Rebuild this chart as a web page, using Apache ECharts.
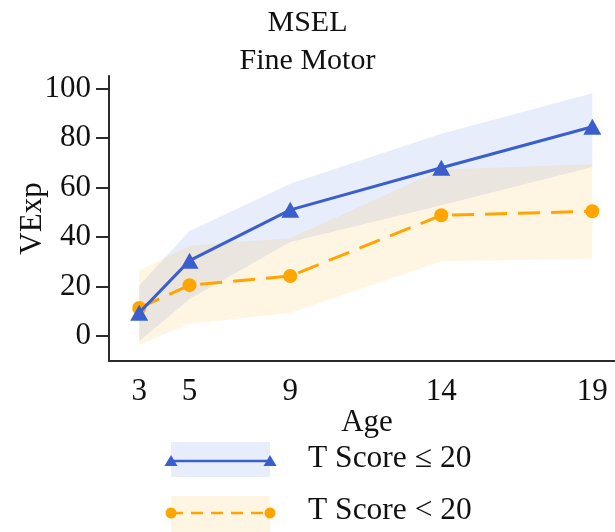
<!DOCTYPE html>
<html>
<head>
<meta charset="utf-8">
<script src="https://cdn.jsdelivr.net/npm/echarts@6/dist/echarts.min.js"></script>
<style>
  html, body { margin: 0; padding: 0; background: #fff; }
  #chart { width: 615px; height: 532px; }
</style>
</head>
<body>
<div id="chart"></div>
<script>
// Visit positions along the x scale and the age printed under each one
const agePositions = [0, 2, 6, 12, 18];
const ageLabels = ['3', '5', '9', '14', '19'];
const yTicks = [0, 20, 40, 60, 80, 100];

// Group "T Score ≤ 20": mean VExp and its band
const lowMean = [9.5, 30.5, 51, 68, 84.5];
const lowUpper = [20.5, 42.5, 61.5, 81.7, 98];
const lowLower = [-2, 15, 38, 52.8, 68.3];

// Group "T Score < 20": mean VExp and its band
const highMean = [11.4, 20.6, 24.3, 48.8, 50.4];
const highUpper = [26.5, 36.5, 39.5, 67.3, 69.4];
const highLower = [-3.5, 5, 9.4, 30.2, 31.3];

const seriesNames = ['T Score ≤ 20', 'T Score < 20'];

const BLUE = '#3a5fcd';
const ORANGE = '#ffa500';
const BLUE_BAND = 'rgba(65,105,225,0.12)';
const ORANGE_BAND = 'rgba(255,165,0,0.11)';
const FONT = "'Liberation Serif', 'Times New Roman', serif";
const INK = '#111';
const AXIS = '#2b2b2b';

const pairs = vals => agePositions.map((x, i) => [x, vals[i]]);

// Shaded range between lower and upper, drawn as one polygon in axis coordinates
function band(lower, upper, color) {
  return {
    type: 'custom',
    silent: true,
    z: 1,
    data: agePositions.map((x, i) => [x, lower[i], upper[i]]),
    encode: { x: 0, y: [1, 2] },
    renderItem: function (params, api) {
      if (params.dataIndex !== 0) return null;
      const top = agePositions.map((x, i) => api.coord([x, upper[i]]));
      const bottom = agePositions.map((x, i) => api.coord([x, lower[i]])).reverse();
      return {
        type: 'polygon',
        shape: { points: top.concat(bottom) },
        style: { fill: color }
      };
    }
  };
}

// Legend entries: shaded swatch, line sample with a marker at each end, label
function legendRow(y, top, h, color, bandColor, dashed, marker, label) {
  const x0 = 171, x1 = 270;
  const children = [
    { type: 'rect', shape: { x: x0, y: top, width: x1 - x0, height: h }, style: { fill: bandColor } },
    { type: 'line', shape: { x1: x0, y1: y, x2: x1, y2: y },
      style: { stroke: color, lineWidth: 2.5, lineDash: dashed ? [12, 8] : null } }
  ];
  [x0, x1].forEach(cx => {
    if (marker === 'triangle') {
      children.push({ type: 'polygon', shape: { points: [[cx, y - 6], [cx - 6.5, y + 5], [cx + 6.5, y + 5]] },
        style: { fill: color } });
    } else {
      children.push({ type: 'circle', shape: { cx: cx, cy: y, r: 5.5 }, style: { fill: color } });
    }
  });
  children.push({ type: 'text', x: 308, y: y - 2,
    style: { text: label, font: '31.5px ' + FONT, fill: INK, verticalAlign: 'middle', align: 'left' } });
  return { type: 'group', children: children };
}

const chart = echarts.init(document.getElementById('chart'), null, { renderer: 'canvas' });

chart.setOption({
  animation: false,
  backgroundColor: '#fff',
  title: {
    text: 'MSEL\nFine Motor',
    left: 'center',
    top: 4,
    padding: 0,
    textStyle: { fontFamily: FONT, fontSize: 30, fontWeight: 'normal', color: INK, lineHeight: 38 }
  },
  grid: { left: 109, right: 0, top: 76, bottom: 171, containLabel: false, outerBoundsMode: 'none' },
  xAxis: {
    type: 'value',
    min: -1.2,
    max: 18.9,
    name: 'Age',
    nameLocation: 'middle',
    nameGap: 46,
    nameMoveOverlap: false,
    nameTextStyle: { fontFamily: FONT, fontSize: 31, color: INK, padding: [0, 0, 0, 10] },
    splitLine: { show: false },
    axisLine: { show: true, onZero: false, lineStyle: { color: AXIS, width: 2 } },
    axisTick: { show: false },
    axisLabel: {
      customValues: agePositions,
      formatter: v => ageLabels[agePositions.indexOf(v)],
      margin: 15,
      fontFamily: FONT, fontSize: 31, color: INK
    }
  },
  yAxis: {
    type: 'value',
    min: -10,
    max: 105,
    name: 'VExp',
    nameLocation: 'middle',
    nameGap: 61,
    nameMoveOverlap: false,
    nameTextStyle: { fontFamily: FONT, fontSize: 31, color: INK },
    splitLine: { show: false },
    axisLine: { show: true, onZero: false, lineStyle: { color: AXIS, width: 2 } },
    axisTick: { show: true, customValues: yTicks, length: 13, lineStyle: { color: AXIS, width: 2 } },
    axisLabel: {
      customValues: yTicks,
      margin: 18,
      fontFamily: FONT, fontSize: 31, color: INK
    }
  },
  series: [
    band(lowLower, lowUpper, BLUE_BAND),
    band(highLower, highUpper, ORANGE_BAND),
    {
      name: seriesNames[1], type: 'line', data: pairs(highMean), z: 3,
      symbol: 'circle', symbolSize: 14,
      lineStyle: { color: ORANGE, width: 3, type: [22, 11] },
      itemStyle: { color: ORANGE }
    },
    {
      name: seriesNames[0], type: 'line', data: pairs(lowMean), z: 4,
      symbol: 'triangle', symbolSize: [18, 16],
      lineStyle: { color: BLUE, width: 3 },
      itemStyle: { color: BLUE }
    }
  ],
  graphic: [
    legendRow(461, 442, 35, BLUE, BLUE_BAND, false, 'triangle', seriesNames[0]),
    legendRow(513, 496, 40, ORANGE, ORANGE_BAND, true, 'circle', seriesNames[1])
  ]
});
</script>
</body>
</html>
